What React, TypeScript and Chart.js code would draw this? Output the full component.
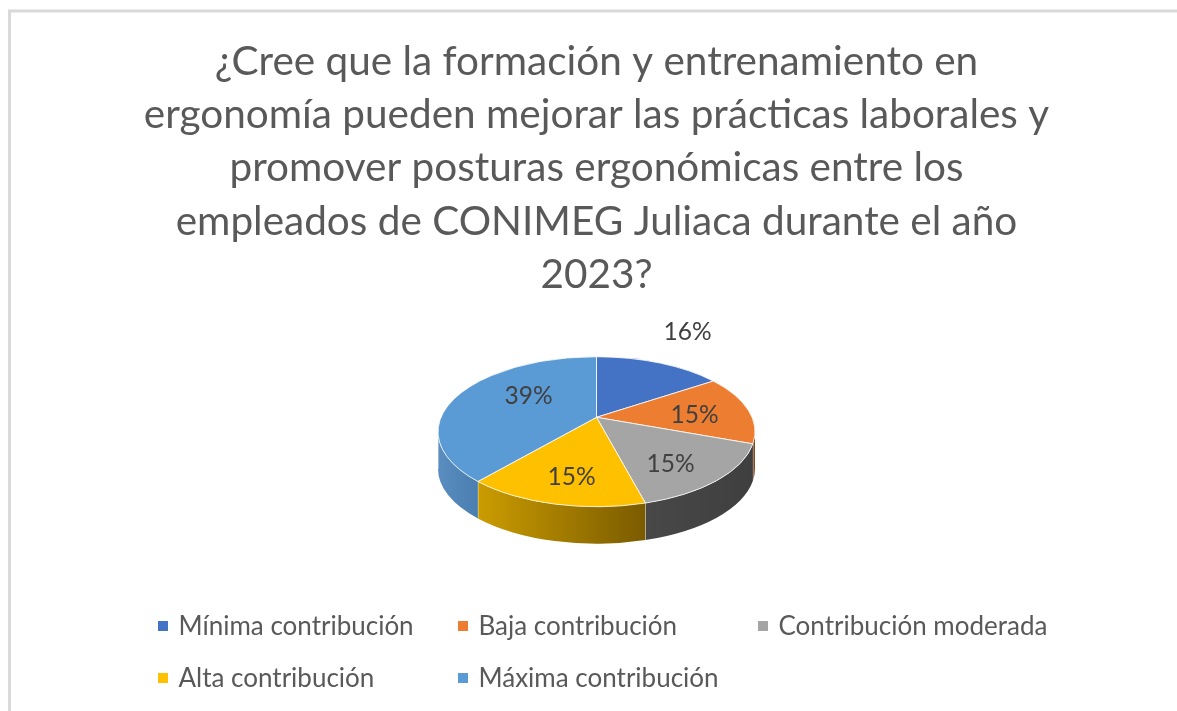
import React, { useEffect, useRef } from "react";
import { Chart, registerables } from "chart.js";

Chart.register(...registerables);

const titleLines = [
  "¿Cree que la formación y entrenamiento en",
  "ergonomía pueden mejorar las prácticas laborales y",
  "promover posturas ergonómicas entre los",
  "empleados de CONIMEG Juliaca durante el año",
  "2023?",
];
const categories = [
  "Mínima contribución",
  "Baja contribución",
  "Contribución moderada",
  "Alta contribución",
  "Máxima contribución",
];
const shares = [16, 15, 15, 15, 39];
const sliceColors = ["#4472C4", "#ED7D31", "#A5A5A5", "#FFC000", "#5B9BD5"];
const wallColors = [
  ["#2f5597", "#2f5597"],
  ["#8a4a1c", "#7a3f16"],
  ["#3f3f3f", "#484848"],
  ["#7a5b00", "#cb9c00"],
  ["#4a7eaf", "#5a8dc0"],
];
const labelOffsets = [
  [91, -100],
  [98, -17],
  [74, 32],
  [-25, 45],
  [-68, -36],
];
const legendColumns = [158, 458, 758];
const legendRows = [626, 678];

const FONT = "Lato, 'Open Sans', sans-serif";
const TILT = 75 / 158.5;
const DEPTH = 37;
const PERSPECTIVE = 0.8;

const warp = (clock: number) => 2 * Math.atan2(PERSPECTIVE * Math.sin(clock / 2), Math.cos(clock / 2));

const piePlugin = {
  id: "pie3d",
  beforeDraw(chart: any) {
    const { ctx } = chart;
    ctx.save();
    ctx.strokeStyle = "#d9d9d9";
    ctx.lineWidth = 3;
    ctx.strokeRect(9.5, 11, 1300, 900);
    ctx.restore();
  },
  beforeDatasetDraw(chart: any, args: any) {
    const { ctx } = chart;
    const arcs = args.meta.data;
    ctx.save();
    const first = arcs[0];
    const cx = first.x;
    const cy = first.y;
    const rx = first.outerRadius;
    const ry = rx * TILT;
    const apexY = cy - ry * Math.cos(warp(Math.PI / 2)) + 2;
    const spans = arcs.map((arc: any) => [warp(arc.startAngle + Math.PI / 2), warp(arc.endAngle + Math.PI / 2)]);

    // side wall, only the part of the rim that faces the viewer
    arcs.forEach((arc: any, i: number) => {
      const a = Math.max(spans[i][0], Math.PI / 2);
      const b = Math.min(spans[i][1], (3 * Math.PI) / 2);
      if (b <= a) return;
      const xa = cx + rx * Math.sin(a);
      const xb = cx + rx * Math.sin(b);
      const grad = ctx.createLinearGradient(xb, 0, xa, 0);
      grad.addColorStop(0, wallColors[i][1]);
      grad.addColorStop(1, wallColors[i][0]);
      ctx.beginPath();
      ctx.ellipse(cx, cy, rx, ry, 0, a - Math.PI / 2, b - Math.PI / 2);
      ctx.ellipse(cx, cy + DEPTH, rx, ry, 0, b - Math.PI / 2, a - Math.PI / 2, true);
      ctx.closePath();
      ctx.fillStyle = grad;
      ctx.fill();
      ctx.strokeStyle = "rgba(255,255,255,0.75)";
      ctx.lineWidth = 1;
      ctx.beginPath();
      ctx.moveTo(xb, cy - ry * Math.cos(b));
      ctx.lineTo(xb, cy - ry * Math.cos(b) + DEPTH);
      ctx.stroke();
    });

    // top face
    arcs.forEach((arc: any, i: number) => {
      ctx.beginPath();
      ctx.moveTo(cx, apexY);
      ctx.ellipse(cx, cy, rx, ry, 0, spans[i][0] - Math.PI / 2, spans[i][1] - Math.PI / 2);
      ctx.closePath();
      ctx.fillStyle = arc.options.backgroundColor;
      ctx.fill();
      ctx.strokeStyle = "rgba(255,255,255,0.8)";
      ctx.lineWidth = 1;
      ctx.stroke();
    });
    ctx.restore();
    return false;
  },
  afterDatasetsDraw(chart: any) {
    const { ctx } = chart;
    const arcs = chart.getDatasetMeta(0).data;
    const cx = arcs[0].x;
    const cy = arcs[0].y;
    ctx.save();
    ctx.font = `24.5px ${FONT}`;
    ctx.fillStyle = "#404040";
    ctx.textAlign = "center";
    ctx.textBaseline = "middle";
    const values = chart.data.datasets[0].data;
    values.forEach((v: number, i: number) => {
      ctx.fillText(`${v}%`, cx + labelOffsets[i][0], cy + labelOffsets[i][1]);
    });

    // legend in fixed columns
    ctx.font = `26px ${FONT}`;
    ctx.textAlign = "left";
    chart.data.labels.forEach((label: string, i: number) => {
      const x = legendColumns[i % 3];
      const y = legendRows[Math.floor(i / 3)];
      ctx.fillStyle = sliceColors[i];
      ctx.fillRect(x, y - 5, 10, 10);
      ctx.fillStyle = "#595959";
      ctx.fillText(label, x + 20.5, y + 1);
    });
    ctx.restore();
  },
};

export default function App() {
  const ref = useRef<HTMLCanvasElement>(null);
  useEffect(() => {
    const chart = new Chart(ref.current!, {
      type: "pie",
      data: {
        labels: categories,
        datasets: [{ data: shares, backgroundColor: sliceColors, borderWidth: 0 }],
      },
      options: {
        animation: false,
        responsive: false,
        radius: 158.5,
        layout: { padding: { left: 16, bottom: 149 } },
        plugins: {
          legend: { display: false },
          tooltip: { enabled: false },
          title: {
            display: true,
            text: titleLines,
            color: "#595959",
            font: { family: FONT, size: 40.5, weight: "normal", lineHeight: 1.316 },
            padding: { top: 35, bottom: 0 },
          },
        },
      },
      plugins: [piePlugin],
    } as any);
    return () => chart.destroy();
  }, []);
  return (
    <div style={{ position: "fixed", left: 0, top: 0, width: 1177, height: 711, background: "#fff" }}>
      <canvas ref={ref} width={1177} height={711} style={{ display: "block" }} />
    </div>
  );
}
